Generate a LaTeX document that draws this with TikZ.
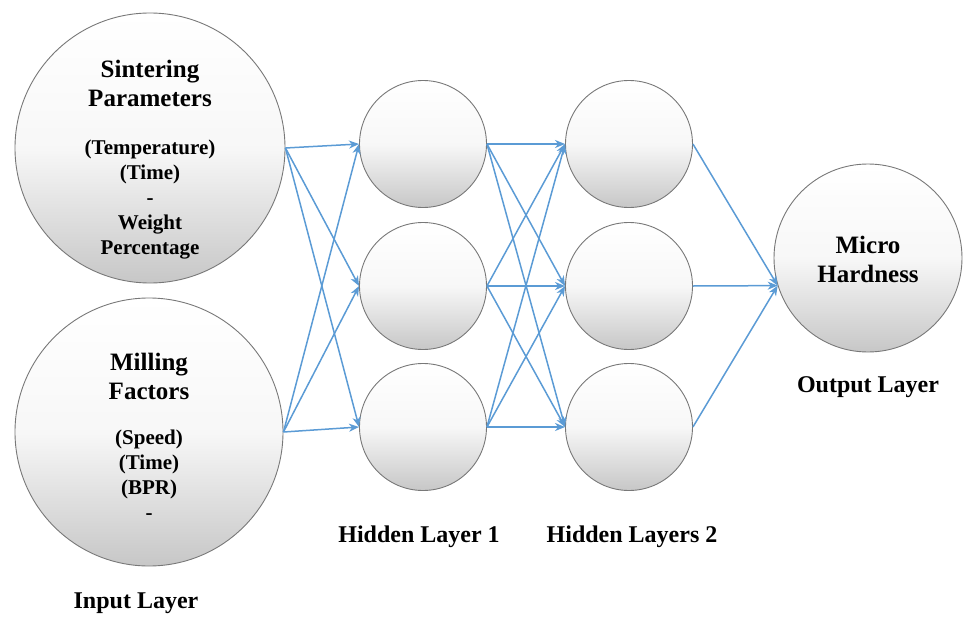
\documentclass[tikz,border=0pt]{standalone}
\usepackage{fontspec}
\setmainfont{Liberation Serif}
\usetikzlibrary{arrows.meta}
\definecolor{linkblue}{RGB}{91,155,213}
\definecolor{rimgray}{RGB}{120,120,120}
\tikzset{
  neuron/.style={circle, draw=rimgray, line width=0.9pt, top color=white, bottom color=black!22, middle color=white!97!black, inner sep=0pt},
  link/.style={draw=linkblue, line width=1.5pt, -{Stealth[length=10pt,width=8pt,inset=3pt]}},
  titletxt/.style={font=\bfseries\fontsize{25}{29}\selectfont, align=center, inner sep=0pt},
  layertxt/.style={font=\bfseries\fontsize{24}{28}\selectfont, inner sep=0pt},
}
\begin{document}
\begin{tikzpicture}[x=1pt,y=-1pt]
\useasboundingbox (0,0) rectangle (967,621);
% input layer
\node[neuron, minimum size=270pt] (in1) at (150,148) {};
\node[neuron, minimum size=268pt] (in2) at (149,432) {};
% hidden layer 1
\node[neuron, minimum size=127pt] (h11) at (423,144) {};
\node[neuron, minimum size=127pt] (h12) at (423,286) {};
\node[neuron, minimum size=127pt] (h13) at (423,427) {};
% hidden layer 2
\node[neuron, minimum size=127pt] (h21) at (629,144) {};
\node[neuron, minimum size=127pt] (h22) at (629,286) {};
\node[neuron, minimum size=127pt] (h23) at (629,427) {};
% output
\node[neuron, minimum size=188pt] (out) at (868,258) {};
\coordinate (outin) at (out.197);

% texts inside circles
\node[titletxt] (in1t) at (150,83) {Sintering\\Parameters};
\node[titletxt, font=\bfseries\fontsize{21}{25}\selectfont] (in1s) at (150,200) {(Temperature)\\(Time)\\-\\Weight\\Percentage};
\node[titletxt] (in2t) at (149,376) {Milling\\Factors};
\node[titletxt, font=\bfseries\fontsize{21}{25}\selectfont] (in2s) at (149,475) {(Speed)\\(Time)\\(BPR)\\-};
\node[titletxt] (outtxt) at (868,259) {Micro\\Hardness};

% connectors
\foreach \s in {in1,in2}{
  \foreach \t in {h11,h12,h13}{
    \draw[link] (\s.east) -- (\t.west);
  }
}
\foreach \s in {h11,h12,h13}{
  \foreach \t in {h21,h22,h23}{
    \draw[link] (\s.east) -- (\t.west);
  }
}
\foreach \s in {h21,h22,h23}{
  \draw[link] (\s.east) -- (outin);
}

% layer labels
\node[layertxt] (lin) at (136,603) {Input Layer};
\node[layertxt] (lh1) at (419,537) {Hidden Layer 1};
\node[layertxt] (lh2) at (632,537) {Hidden Layers 2};
\node[layertxt] (lout) at (868,387) {Output Layer};
\end{tikzpicture}
\end{document}
